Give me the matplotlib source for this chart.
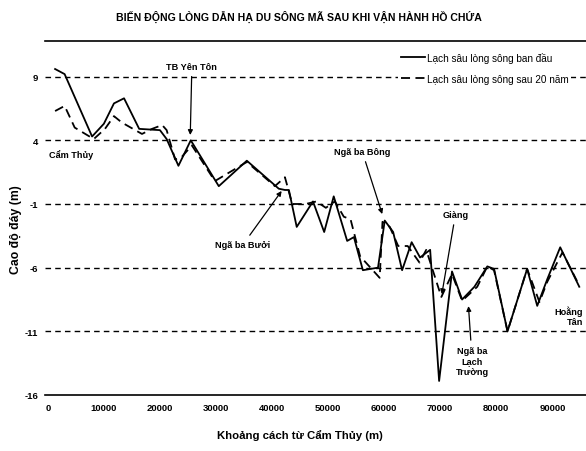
import matplotlib.pyplot as plt

plt.rcParams['font.family'] = ['Liberation Sans Narrow', 'Liberation Sans', 'DejaVu Sans']

# Lach sau long song ban dau (solid)
x_orig = [1300, 3000, 7900, 10000, 11800, 13600, 16300, 20000, 21200, 23300,
          25500, 30500, 35500, 41200, 42300, 43000, 44400, 47300, 49300, 51000,
          53400, 54600, 56200, 58900, 60100, 61600, 63200, 64900, 66400, 68200,
          69800, 72100, 73900, 76100, 78400, 79600, 82000, 85500, 87300, 89100,
          91400, 94800]
y_orig = [9.6, 9.2, 4.3, 5.3, 6.9, 7.3, 4.9, 4.8, 4.1, 2.0,
          4.0, 0.4, 2.4, 0.2, 0.1, 0.1, -2.8, -0.8, -3.2, -0.4,
          -3.9, -3.6, -6.2, -6.0, -2.3, -3.2, -6.2, -4.0, -5.2, -4.6,
          -14.9, -6.3, -8.5, -7.5, -5.9, -6.1, -11.0, -6.1, -9.0, -6.9,
          -4.4, -7.5]

# Lach sau long song sau 20 nam (dashed)
x_new = [1300, 3000, 4800, 8200, 10200, 11800, 13200, 16800, 18600, 20400,
         21200, 22700, 23900, 25700, 29800, 35500, 40500, 42300, 43600, 46000,
         47900, 49600, 51200, 52800, 54000, 55700, 59200, 59700, 61000, 62500,
         64200, 66300, 67500, 70200, 72100, 73900, 76600, 78400, 79600, 82000,
         85500, 87700, 89100, 91800, 94800]
y_new = [6.3, 6.7, 5.0, 4.1, 4.9, 5.9, 5.4, 4.5, 4.9, 5.2,
         4.8, 2.5, 2.7, 3.6, 0.8, 2.3, 0.4, 1.1, -1.0, -1.0,
         -0.8, -1.3, -0.8, -2.0, -2.2, -5.1, -6.8, -2.4, -2.8, -4.3,
         -4.3, -5.6, -4.6, -8.3, -6.5, -8.6, -7.5, -5.9, -6.2, -11.0,
         -6.1, -8.7, -7.1, -4.8, -7.4]

grid_levels = [9, 4, -1, -6, -11]
x_ticks = [0, 10000, 20000, 30000, 40000, 50000, 60000, 70000, 80000, 90000]
y_ticks = [9, 4, -1, -6, -11, -16]

fig = plt.figure(figsize=(5.86, 4.52), dpi=100)
ax = fig.add_axes([45 / 586, 1 - 396 / 452, 1 - 45 / 586, (396 - 42) / 452])

for g in grid_levels:
    ax.axhline(g, color='black', linestyle=(0, (4, 3)), linewidth=1.0, zorder=1)

ax.plot(x_orig, y_orig, color='black', linewidth=1.3,
        label='Lạch sâu lòng sông ban đầu', zorder=3)
ax.plot(x_new, y_new, color='black', linewidth=1.3, linestyle=(0, (5, 3)),
        label='Lạch sâu lòng sông sau 20 năm', zorder=3)

ax.set_xlim(-500, 96000)
ax.set_ylim(-16, 11.8)
ax.set_xticks(x_ticks)
ax.set_yticks(y_ticks)
ax.set_xticklabels([str(t) for t in x_ticks], fontsize=6.8, fontweight='bold')
ax.set_yticklabels([str(t) for t in y_ticks], fontsize=6.8, fontweight='bold')
ax.tick_params(length=0)
ax.tick_params(axis='x', pad=6)
ax.tick_params(axis='y', pad=5)
ax.spines['left'].set_visible(False)
ax.spines['right'].set_visible(False)
ax.spines['top'].set_linewidth(1.2)
ax.spines['bottom'].set_linewidth(1.2)

ax.set_xlabel('Khoảng cách từ Cẩm Thủy (m)', fontsize=8.2, fontweight='bold')
ax.xaxis.set_label_coords(0.471, -0.095)
ax.set_ylabel('Cao độ đáy (m)', fontsize=8.8, fontweight='bold')
ax.yaxis.set_label_coords(-0.043, 0.47)
fig.text(0.51, 0.962, 'BIẾN ĐỘNG LÒNG DẪN HẠ DU SÔNG MÃ SAU KHI VẬN HÀNH HỒ CHỨA',
         ha='center', va='center', fontsize=7.6, fontweight='bold')

leg = ax.legend(loc='upper left', bbox_to_anchor=(0.652, 0.978), frameon=True,
                fontsize=7.2, handlelength=2.4, handletextpad=0.2, labelspacing=1.1,
                borderaxespad=0, borderpad=0.3, fancybox=False)
leg.get_frame().set_edgecolor('none')
leg.get_frame().set_facecolor('white')
leg.get_frame().set_alpha(1.0)

# annotations
arrow = dict(arrowstyle='-|>', color='black', lw=0.9, mutation_scale=7)
ax.annotate('TB Yên Tôn', xy=(25400, 4.2), xytext=(25700, 9.8), ha='center',
            va='center', fontsize=6.6, fontweight='bold', arrowprops=arrow)
ax.text(200, 2.9, 'Cẩm Thủy', fontsize=6.6, fontweight='bold', va='center')
ax.annotate('Ngã ba Bưởi', xy=(42000, 0.2), xytext=(34800, -4.2), ha='center',
            va='center', fontsize=6.6, fontweight='bold', arrowprops=arrow)
ax.annotate('Ngã ba Bông', xy=(59800, -2.0), xytext=(56100, 3.1), ha='center',
            va='center', fontsize=6.6, fontweight='bold', arrowprops=arrow)
ax.annotate('Giàng', xy=(70200, -8.3), xytext=(72700, -1.85), ha='center',
            va='center', fontsize=6.6, fontweight='bold', arrowprops=arrow)
ax.annotate('Ngã ba\nLạch\nTrường', xy=(75000, -8.8), xytext=(75700, -13.3),
            ha='center', va='center', fontsize=6.6, fontweight='bold',
            linespacing=1.2, arrowprops=arrow)
ax.text(95500, -9.8, 'Hoằng\nTân', ha='right', va='center', fontsize=6.6,
        fontweight='bold', linespacing=1.1)

fig.savefig('out.png', dpi=100)
